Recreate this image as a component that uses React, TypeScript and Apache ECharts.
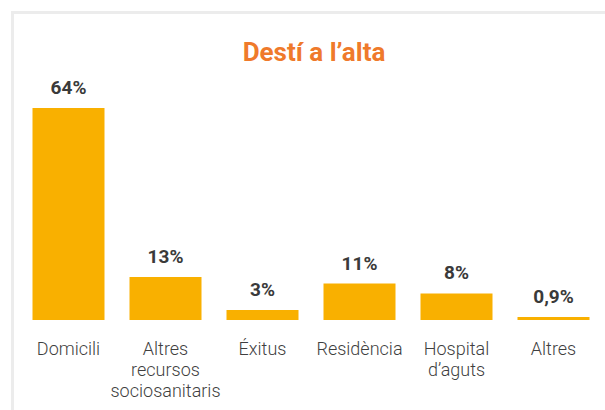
import React, { useEffect, useRef } from "react";
import * as echarts from "echarts";

const categories = ["Domicili", "Altres\nrecursos\nsociosanitaris", "Éxitus", "Residència", "Hospital\nd’aguts", "Altres"];
const values = [64, 13, 3, 11, 8, 0.9];
const titleText = "Destí a l’alta";

const fmt = (v: number) => String(v).replace(".", ",") + "%";

export default function App() {
  const ref = useRef<HTMLDivElement>(null);
  useEffect(() => {
    if (!ref.current) return;
    const chart = echarts.init(ref.current, undefined, { renderer: "svg" });
    chart.setOption({
      animation: false,
      backgroundColor: "#ffffff",
      title: {
        text: titleText,
        left: 309,
        top: 34,
        textAlign: "center",
        textStyle: { color: "#EF7A2B", fontFamily: "Roboto", fontWeight: "bold", fontSize: 26 },
      },
      graphic: [
        {
          type: "rect",
          shape: { x: 12.5, y: 12.5, width: 700, height: 500 },
          style: { fill: "none", stroke: "#ececec", lineWidth: 3 },
          silent: true,
        },
      ],
      grid: { left: 20, right: 3, top: 88, bottom: 90 },
      xAxis: {
        type: "category",
        data: categories,
        axisLine: { show: false },
        axisTick: { show: false },
        axisLabel: {
          interval: 0,
          margin: 18,
          color: "#3f3f3f",
          fontFamily: "Roboto",
          fontWeight: 300,
          fontSize: 18,
          lineHeight: 21,
          verticalAlign: "top",
        },
      },
      yAxis: {
        type: "value",
        min: 0,
        max: 70,
        show: false,
        splitLine: { show: false },
      },
      series: [
        {
          type: "bar",
          data: values,
          barWidth: 72,
          itemStyle: { color: "#F9B000" },
          label: {
            show: true,
            position: "top",
            distance: 11,
            color: "#3a3a3a",
            fontFamily: "Roboto",
            fontWeight: "bold",
            fontSize: 19,
            formatter: (p: any) => fmt(p.value),
          },
        },
      ],
    });
    return () => chart.dispose();
  }, []);
  return <div ref={ref} style={{ position: "fixed", left: 0, top: 0, width: 605, height: 410 }} />;
}
